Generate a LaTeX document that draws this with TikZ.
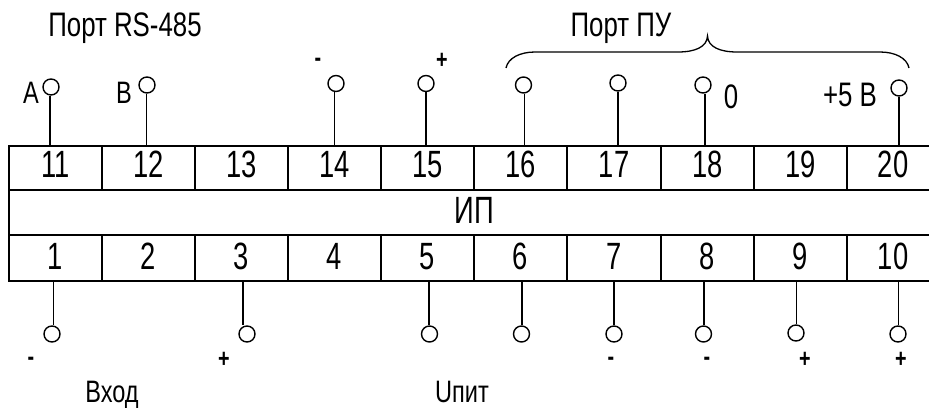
\documentclass[tikz,border=0pt]{standalone}
\usepackage{fontspec}
\setmainfont[FakeStretch=0.76]{Liberation Sans}
\newfontfamily\cellfont[FakeStretch=0.72]{Liberation Sans}
\tikzset{x=1pt,y=-1pt,
 cell/.style={draw=black,line width=2pt,outer sep=0pt,inner sep=0pt,font=\cellfont\fontsize{38}{38}\selectfont,anchor=center},
 opencell/.style={outer sep=0pt,inner sep=0pt,font=\cellfont\fontsize{38}{38}\selectfont,anchor=center},
 border/.style={draw=black,line width=2pt},
 pin/.style={circle,draw=black,line width=1.4pt,minimum size=16pt,inner sep=0pt},
 wire/.style={draw=black,line width=1.4pt},
 lab/.style={inner sep=0pt,anchor=base,font=\fontsize{34}{34}\selectfont},
 labsmall/.style={inner sep=0pt,anchor=base,font=\fontsize{31}{31}\selectfont},
 sign/.style={inner sep=0pt,font=\fontsize{26}{26}\selectfont\bfseries},
}
\newcommand{\cellbox}[7][cell]{% style, name, x0, x1, y0, y1, text
 \node[#1,minimum width=#4pt-#3pt,minimum height=#6pt-#5pt] (#2) at ({(#3+#4)/2},{(#5+#6)/2}) {\raisebox{\myraise}[0pt][0pt]{#7}};}
\newcommand{\toppin}[4]{% number, cx, cy, linex
 \node[pin] (p#1) at (#2,#3) {};
 \coordinate (w#1) at (#4,#3);
 \draw[wire] (w#1 |- p#1.south) -- (w#1 |- c#1.north);}
\newcommand{\botpin}[4]{%
 \node[pin] (p#1) at (#2,#3) {};
 \coordinate (w#1) at (#4,#3);
 \draw[wire] (w#1 |- c#1.south) -- (w#1 |- p#1.north);}
\begin{document}
\begin{tikzpicture}
\useasboundingbox (0,0) rectangle (929,407);
\fill[white] (0,0) rectangle (929,407);
% upper row
\def\myraise{-9.5pt}
\cellbox{c11}{9}{101.5}{145.5}{189.5}{11}
\cellbox{c12}{101.5}{195}{145.5}{189.5}{12}
\cellbox{c13}{195}{288}{145.5}{189.5}{13}
\cellbox{c14}{288}{381}{145.5}{189.5}{14}
\cellbox{c15}{381}{474}{145.5}{189.5}{15}
\cellbox{c16}{474}{567}{145.5}{189.5}{16}
\cellbox{c17}{567}{661}{145.5}{189.5}{17}
\cellbox{c18}{661}{754}{145.5}{189.5}{18}
\cellbox{c19}{754}{847}{145.5}{189.5}{19}
\cellbox[opencell]{c20}{847}{939}{145.5}{189.5}{20}
% middle
\def\myraise{-11pt}
\cellbox[opencell]{ip}{9}{939}{189.5}{234.5}{ИП}
% lower row
\def\myraise{-11.5pt}
\cellbox{c1}{9}{101.5}{234.5}{280.5}{1}
\cellbox{c2}{101.5}{195}{234.5}{280.5}{2}
\cellbox{c3}{195}{288}{234.5}{280.5}{3}
\cellbox{c4}{288}{381}{234.5}{280.5}{4}
\cellbox{c5}{381}{474}{234.5}{280.5}{5}
\cellbox{c6}{474}{567}{234.5}{280.5}{6}
\cellbox{c7}{567}{661}{234.5}{280.5}{7}
\cellbox{c8}{661}{754}{234.5}{280.5}{8}
\cellbox{c9}{754}{847}{234.5}{280.5}{9}
\cellbox[opencell]{c10}{847}{939}{234.5}{280.5}{10}
% open right side
\draw[border] (c20.north west) -- (929,145.5);
\draw[border] (c20.south west) -- (929,189.5);
\draw[border] (c10.north west) -- (929,234.5);
\draw[border] (c10.south west) -- (929,280.5);
\draw[border] (c20.north west) -- (c20.south west);
\draw[border] (c10.north west) -- (c10.south west);
\draw[border] (c11.south west) -- (c1.north west);
% pins
\toppin{11}{51}{87}{50}
\toppin{12}{147}{85}{146.5}
\toppin{14}{336}{83.5}{334.5}
\toppin{15}{426}{83.5}{426}
\toppin{16}{523.5}{85}{524.5}
\toppin{17}{618}{83}{618}
\toppin{18}{703}{85}{705}
\toppin{20}{899}{88}{899}
\botpin{1}{52}{334}{53.5}
\botpin{3}{247}{334}{243}
\botpin{5}{429.5}{334}{429}
\botpin{6}{521.5}{334}{522}
\botpin{7}{614}{334}{614}
\botpin{8}{703.5}{334}{704}
\botpin{9}{796}{333}{796.5}
\botpin{10}{898}{334}{898.5}
% labels
\node[lab] (t485) at (125,36) {Порт RS-485};
\node[lab] (tpu) at (621,36) {Порт ПУ};
\node[labsmall] (la) at (31,103) {A};
\node[labsmall] (lb) at (124,103) {B};
\node[lab] (l0) at (731,108) {0};
\node[lab] (l5v) at (850,106) {+5 В};
\node[labsmall] (lin) at (112,402) {Вход};
\node[labsmall] (lup) at (462,402) {Uпит};
\node[sign] (s1) at (318,62) {-};
\node[sign] (s2) at (442,61) {+};
\node[sign] (s3) at (31,361) {-};
\node[sign] (s4) at (224,360) {+};
\node[sign] (s5) at (611,361) {-};
\node[sign] (s6) at (707,361) {-};
\node[sign] (s7) at (805,360) {+};
\node[sign] (s8) at (901,360) {+};
% brace
\draw[line width=1.3pt] (506,68) .. controls (508,58) and (520,52) .. (535,52)
 -- (678,52) .. controls (695,52) and (707,47) .. (707.5,36)
 .. controls (708,47) and (720,52) .. (737,52)
 -- (880,52) .. controls (895,52) and (907,58) .. (909,68);
\end{tikzpicture}
\end{document}
